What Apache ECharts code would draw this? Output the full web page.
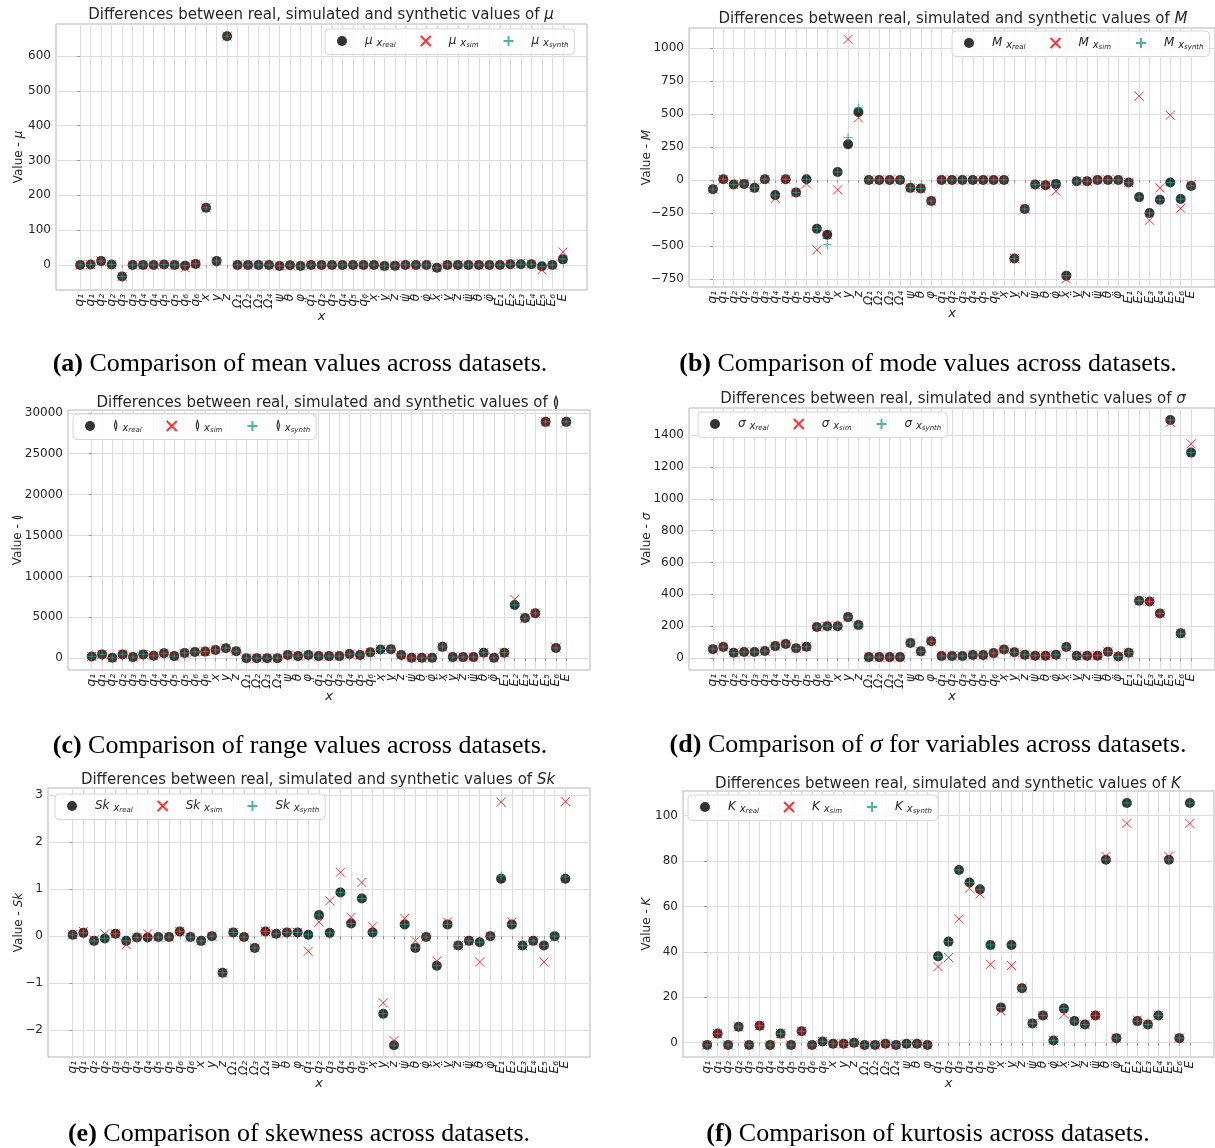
<!DOCTYPE html>
<html><head><meta charset="utf-8">
<script src="https://cdn.jsdelivr.net/npm/echarts@6/dist/echarts.min.js"></script>
<style>html,body{margin:0;padding:0;background:#fff}#c{width:1215px;height:1148px}</style>
</head><body><div id="c"></div><script>
// ---- categories (x tick labels) ----
const categories = ['q₁','q₁','q₂','q₂','q₃','q₃','q₄','q₄','q₅','q₅','q₆','q₆','x','y','z','Ω₁','Ω₂','Ω₃','Ω₄','ψ','θ','φ',
  'q̇₁','q̇₂','q̇₃','q̇₄','q̇₅','q̇₆','ẋ','ẏ','ż','ψ̇','θ̇','φ̇','ẍ','ÿ','z̈','ψ̈','θ̈','φ̈','E₁','E₂','E₃','E₄','E₅','E₆','E'];

// ---- (a) mean ----
const meanReal  = [0,1,11,1,-33,0,0,0,1,0,-2,3,164,11,657,0,0,0,0,-3,-1,-3,0,0,0,0,0,0,0,-3,-2,0,0,0,-8,0,0,0,0,0,0,2,2,2,-4,0,16];
const meanSim   = [0,1,11,1,-33,0,0,0,1,0,-8,3,164,11,657,0,0,0,0,-3,-1,-3,0,0,0,0,0,0,0,-3,-2,0,0,0,-8,0,0,0,0,0,0,2,5,2,-14,0,37];
const meanSynth = [0,1,11,1,-33,0,0,0,1,0,-2,3,164,11,657,0,0,0,0,-3,-1,-3,0,0,0,0,0,0,0,-3,-2,0,0,0,-8,0,0,0,0,0,0,2,2,2,-5,0,17];
const meanTicks = [0,100,200,300,400,500,600];

// ---- (b) mode ----
const modeReal  = [-70,5,-35,-30,-60,5,-115,5,-95,5,-370,-415,60,270,515,0,0,0,0,-60,-65,-160,0,0,0,0,0,0,0,-595,-220,-35,-40,-30,-725,-10,-10,0,0,0,-20,-130,-250,-150,-20,-145,-45];
const modeSim   = [-70,5,-35,-25,-60,5,-140,5,-95,-30,-530,-415,-75,1065,470,0,0,0,0,-60,-65,-160,0,0,0,0,0,0,0,-595,-220,-35,-40,-85,-750,-10,-10,0,0,0,-20,635,-305,-60,490,-215,-35];
const modeSynth = [-70,5,-35,-30,-60,5,-115,5,-95,5,-370,-490,60,320,545,0,0,0,0,-60,-65,-160,0,0,0,0,0,0,0,-595,-220,-35,-40,-30,-725,-10,-10,0,0,0,-20,-130,-250,-150,-20,-145,-45];
const modeTicks = [-750,-500,-250,0,250,500,750,1000];

// ---- (c) range ----
const rangeReal  = [210,460,40,460,125,460,290,590,250,630,760,800,1000,1220,840,0,0,0,0,380,250,380,250,250,250,500,380,710,1050,1090,380,40,40,40,1380,125,125,125,670,40,670,6500,4900,5500,28900,1250,28900];
const rangeSim   = [210,460,40,460,125,460,290,590,250,630,760,800,1000,1220,840,0,0,0,0,380,250,380,250,250,250,500,380,710,1050,1090,380,40,40,40,1380,125,125,125,670,40,670,7200,4900,5500,28900,1250,28900];
const rangeSynth = [210,460,40,460,125,460,290,590,250,630,760,800,1000,1220,840,0,0,0,0,380,250,380,250,250,250,500,380,710,1050,1090,380,40,40,40,1380,125,125,125,670,40,670,6500,4900,5500,28900,1250,28900];
const rangeTicks = [0,5000,10000,15000,20000,25000,30000];

// ---- (d) sigma ----
const sigmaReal  = [56,69,33,38,38,44,75,88,61,71,195,200,200,257,207,6,6,6,6,95,42,105,13,13,13,19,19,31,54,36,21,15,15,21,69,15,15,15,40,10,33,360,355,280,1495,155,1290];
const sigmaSim   = [56,69,33,38,38,44,75,88,61,71,195,200,200,257,207,6,6,6,6,95,42,105,13,13,13,19,19,31,54,36,21,15,15,21,69,15,15,15,40,10,33,360,355,280,1480,155,1345];
const sigmaSynth = [56,69,33,38,38,44,75,88,61,71,195,200,200,257,207,6,6,6,6,95,42,105,13,13,13,19,19,31,54,36,21,15,15,21,69,15,15,15,40,10,33,360,355,280,1495,155,1290];
const sigmaTicks = [0,200,400,600,800,1000,1200,1400];

// ---- (e) skewness ----
const skewReal  = [0.03,0.07,-0.1,-0.05,0.05,-0.1,-0.03,-0.03,-0.02,-0.02,0.1,-0.02,-0.1,0,-0.78,0.08,-0.02,-0.25,0.1,0.05,0.08,0.08,0.03,0.45,0.07,0.93,0.27,0.8,0.08,-1.65,-2.32,0.25,-0.25,-0.02,-0.63,0.25,-0.2,-0.1,-0.13,0,1.22,0.25,-0.2,-0.1,-0.2,0,1.22];
const skewSim   = [0.03,0.1,-0.08,0.05,0.05,-0.18,-0.03,0.05,-0.02,-0.02,0.1,-0.02,-0.1,0,-0.78,0.08,-0.02,-0.25,0.1,0.05,0.08,0.08,-0.32,0.3,0.75,1.36,0.4,1.14,0.2,-1.42,-2.22,0.38,-0.1,-0.02,-0.53,0.3,-0.2,-0.1,-0.55,0,2.85,0.3,-0.2,-0.1,-0.55,-0.03,2.86];
const skewSynth = [0.03,0.07,-0.1,-0.05,0.05,-0.1,-0.03,-0.03,-0.02,-0.02,0.1,-0.02,-0.1,0,-0.78,0.08,-0.02,-0.25,0.1,0.05,0.08,0.08,0.03,0.45,0.07,0.93,0.27,0.8,0.08,-1.65,-2.32,0.25,-0.25,-0.02,-0.63,0.25,-0.2,-0.1,-0.13,0,1.28,0.25,-0.2,-0.1,-0.2,0,1.26];
const skewTicks = [-2,-1,0,1,2,3];

// ---- (f) kurtosis ----
const kurtReal  = [-1,4,-1,7,-1,7.5,-1,4,-1,5,-1,0.5,-0.5,-0.5,0,-1,-1,-0.5,-1,-0.5,-0.5,-1,38,44.5,76,70.5,67.5,43,15.5,43,24,8.5,12,1,15,9.5,8,12,80.5,2,105.5,9.5,8,12,80.5,2,105.5];
const kurtSim   = [-1,4,-1,7,-1,7.5,-1,4,-1,5,-1,0.5,-0.5,-0.5,0,-1,-1,-0.5,-1,-0.5,-0.5,-1,33.5,37.5,54.5,68,65.5,34.5,14,34,24,8.5,12,1,12.5,9.5,8,12,82,2,96.5,10,8,12,82,2,96.5];
const kurtSynth = [-1,4,-1,7,-1,7.5,-1,4,-1,5,-1,0.5,-0.5,-0.5,0,-1,-1,-0.5,-1,-0.5,-0.5,-1,38,44.5,76,70.5,67.5,43,15.5,43,24,8.5,12,1,15,9.5,8,12,80.5,2,105.5,9.5,8,12,80.5,2,105.5];
const kurtTicks = [0,20,40,60,80,100];

// ---- text ----
const symbols  = ['μ','M','≬','σ','Sk','K'];
const captions = [
  ['(a)','Comparison of mean values across datasets.'],
  ['(b)','Comparison of mode values across datasets.'],
  ['(c)','Comparison of range values across datasets.'],
  ['(d)','Comparison of {i|σ} for variables across datasets.'],
  ['(e)','Comparison of skewness across datasets.'],
  ['(f)','Comparison of kurtosis across datasets.']
];

// ---- layout (pixels) ----
const X_MIN = -2.3, X_MAX = 48.3;
const layout = [
  {L:56, T:24, R:587, B:290, ymin:-72, ymax:692, yGap:31, title:[321,15], legend:[325,29], caption:[300,364]},
  {L:689,T:28, R:1216,B:287, ymin:-811,ymax:1151,yGap:36, title:[953,19], legend:[952,31], caption:[928,364]},
  {L:68, T:410,R:590, B:670, ymin:-1450,ymax:30350,yGap:44,title:[328,403],legend:[73,414], caption:[300,746]},
  {L:689,T:408,R:1216,B:670, ymin:-75, ymax:1570,yGap:36, title:[953,399],legend:[698,412], caption:[928,745]},
  {L:48, T:788,R:590, B:1057,ymin:-2.57,ymax:3.15,yGap:23, title:[318,780],legend:[55,794], caption:[299,1134]},
  {L:683,T:791,R:1214,B:1057,ymin:-6.3,ymax:110.8,yGap:30, title:[948,784],legend:[688,795], caption:[928,1134]}
];

const seriesData = [
  [meanReal,meanSim,meanSynth,meanTicks],
  [modeReal,modeSim,modeSynth,modeTicks],
  [rangeReal,rangeSim,rangeSynth,rangeTicks],
  [sigmaReal,sigmaSim,sigmaSynth,sigmaTicks],
  [skewReal,skewSim,skewSynth,skewTicks],
  [kurtReal,kurtSim,kurtSynth,kurtTicks]
];

const FONT = 'DejaVu Sans';
const SERIF = 'Liberation Serif';
const TXT = '#262626';
const GRID_C = '#dddddd';
const FRAME_C = '#b5b5b5';
const RED = '#ff0000';
const TEAL = '#20a08c';
const SIM_SYM = 'path://M0,0L10,10M10,0L0,10';
const SYN_SYM = 'path://M5,0L5,10M0,5L10,5';
const catIdx = categories.map((c, i) => i);
// label positions: the categories plus empty labels at both axis ends
const labelIdx = [X_MIN].concat(catIdx, [X_MAX]);
const kinds = ['real','sim','synth'];

const grid = [], xAxis = [], yAxis = [], series = [], legend = [], graphic = [];
const minusFmt = v => (v < 0 ? '−' : '') + Math.abs(v);

layout.forEach((p, k) => {
  const sym = symbols[k];
  const [real, sim, synth, ticks] = seriesData[k];
  grid.push({left:p.L, top:p.T, width:p.R-p.L, height:p.B-p.T, show:true, borderColor:FRAME_C, borderWidth:1, containLabel:false});
  xAxis.push({
    type:'value', gridIndex:k, min:X_MIN, max:X_MAX,
    axisLine:{show:false},
    axisTick:{show:true, customValues:catIdx, length:3, lineStyle:{color:'#999'}},
    axisLabel:{customValues:labelIdx, rotate:90, hideOverlap:false,
      formatter:v => (categories[v] !== undefined ? categories[v] : ''),
      fontFamily:FONT, fontSize:12, fontStyle:'italic', color:TXT, margin:4, lineHeight:9},
    splitLine:{show:true, lineStyle:{color:GRID_C, width:1}},
    name:'x', nameLocation:'middle', nameGap:20, nameMoveOverlap:false,
    nameTextStyle:{fontFamily:FONT, fontSize:13, fontStyle:'italic', color:TXT}
  });
  yAxis.push({
    type:'value', gridIndex:k, min:p.ymin, max:p.ymax,
    axisLine:{show:false},
    axisTick:{show:true, customValues:ticks, length:3, lineStyle:{color:'#999'}},
    axisLabel:{customValues:ticks, formatter:minusFmt, fontFamily:FONT, fontSize:12, color:TXT, margin:5},
    splitLine:{show:true, lineStyle:{color:GRID_C, width:1}},
    name:'Value - {i|' + sym + '}', nameLocation:'middle', nameRotate:90, nameGap:p.yGap, nameMoveOverlap:false,
    nameTextStyle:{fontFamily:FONT, fontSize:12, color:TXT, rich:{i:{fontFamily:FONT, fontSize:12, fontStyle:'italic', color:TXT}}}
  });
  const names = kinds.map(kd => k + '_' + kd);
  series.push({
    type:'scatter', name:names[0], xAxisIndex:k, yAxisIndex:k,
    data: real.map((v, i) => [catIdx[i], v]),
    symbol:'circle', symbolSize:10, itemStyle:{color:'#000'}, emphasis:{disabled:true}, z:2
  });
  series.push({
    type:'scatter', name:names[1], xAxisIndex:k, yAxisIndex:k,
    data: sim.map((v, i) => [catIdx[i], v]),
    symbol:SIM_SYM, symbolSize:9, itemStyle:{color:'rgba(0,0,0,0)', borderColor:RED, borderWidth:1}, emphasis:{disabled:true}, z:3
  });
  series.push({
    type:'scatter', name:names[2], xAxisIndex:k, yAxisIndex:k,
    data: synth.map((v, i) => [catIdx[i], v]),
    symbol:SYN_SYM, symbolSize:9, itemStyle:{color:'rgba(0,0,0,0)', borderColor:TEAL, borderWidth:1}, emphasis:{disabled:true}, z:4
  });
  legend.push({
    left:p.legend[0], top:p.legend[1], orient:'horizontal', width:300,
    data:names, itemWidth:10, itemHeight:10, itemGap:24,
    padding:[6,6,6,12], borderColor:'#d6d6d6', borderWidth:1, borderRadius:4, backgroundColor:'rgba(255,255,255,0.85)',
    selectedMode:false,
    formatter: nm => '{m|' + sym + '} {x|x}{s|' + nm.split('_')[1] + '}',
    textStyle:{fontFamily:FONT, fontSize:12, color:TXT, padding:[0,0,0,13],
      rich:{m:{fontFamily:FONT, fontSize:12, fontStyle:'italic', color:TXT},
            x:{fontFamily:FONT, fontSize:10, fontStyle:'italic', color:TXT, verticalAlign:'bottom', padding:[4,0,0,0]},
            s:{fontFamily:FONT, fontSize:7, fontStyle:'italic', color:TXT, verticalAlign:'bottom', padding:[8,0,0,0]}}}
  });
  graphic.push({
    type:'text', x:p.title[0], y:p.title[1],
    style:{text:'Differences between real, simulated and synthetic values of {i|' + sym + '}',
      font:'15px "' + FONT + '"', fill:TXT, align:'center', verticalAlign:'middle',
      rich:{i:{fontFamily:FONT, fontSize:15, fontStyle:'italic', fill:TXT}}}
  });
  graphic.push({
    type:'text', x:p.caption[0], y:p.caption[1],
    style:{text:'{b|' + captions[k][0] + '} ' + captions[k][1],
      font:'26px "' + SERIF + '"', fill:'#000', align:'center', verticalAlign:'middle',
      rich:{b:{fontFamily:SERIF, fontSize:26, fontWeight:'bold', fill:'#000'},
            i:{fontFamily:SERIF, fontSize:26, fontStyle:'italic', fill:'#000'}}}
  });
});

const chart = echarts.init(document.getElementById('c'), null, {renderer:'canvas', width:1215, height:1148});
chart.setOption({
  animation:false, backgroundColor:'#fff',
  grid, xAxis, yAxis, series, legend, graphic
});
</script></body></html>
